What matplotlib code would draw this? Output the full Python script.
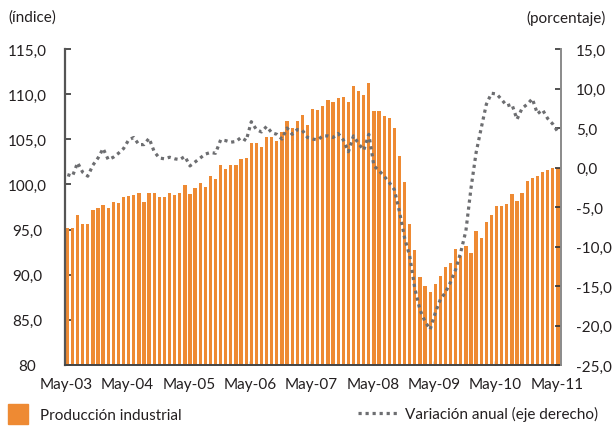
import matplotlib
matplotlib.use("Agg")
import matplotlib.pyplot as plt
from matplotlib.lines import Line2D
from matplotlib.patches import Rectangle

plt.rcParams['font.family'] = ['Lato', 'DejaVu Sans']

# Monthly index of industrial production, May-2003 .. May-2011 (97 months)
produccion = [
    95.2, 95.2, 96.6, 95.6, 95.6, 97.2, 97.4, 97.7, 97.4, 98.0, 97.9, 98.6,
    98.7, 98.8, 99.1, 98.1, 99.0, 99.0, 98.6, 98.6, 99.0, 98.8, 99.0, 99.9,
    98.9, 99.6, 100.2, 99.7, 100.9, 100.6, 102.2, 101.7, 102.2, 102.1, 102.8, 102.9,
    104.6, 104.6, 104.2, 105.2, 105.2, 104.8, 105.8, 107.0, 106.3, 107.0, 107.7, 106.6,
    108.3, 108.2, 108.7, 109.3, 109.1, 109.6, 109.7, 109.1, 110.9, 110.3, 109.9, 111.2,
    108.1, 108.1, 107.6, 107.4, 106.3, 103.2, 100.3, 95.6, 92.7, 89.7, 88.8, 88.1,
    89.0, 89.9, 90.8, 91.3, 92.8, 92.1, 93.2, 92.4, 94.8, 94.1, 95.8, 96.6,
    97.6, 97.6, 97.8, 98.9, 98.2, 99.1, 100.4, 100.7, 100.9, 101.4, 101.6, 101.8,
    101.8,
]
# Annual variation (%), right axis
variacion = [
    -0.9, -1.1, 0.6, -0.6, -1.1, 0.3, 1.2, 2.4, 1.0, 1.3, 1.8, 2.4,
    3.5, 3.8, 2.9, 2.9, 3.7, 2.0, 1.2, 1.1, 1.3, 1.1, 1.0, 1.4,
    0.2, 0.7, 1.2, 1.7, 1.9, 1.8, 3.5, 3.4, 3.2, 3.3, 3.8, 3.4,
    5.8, 4.8, 4.5, 5.2, 4.4, 4.2, 3.6, 5.0, 4.2, 4.8, 4.7, 3.8,
    3.6, 3.5, 4.0, 4.0, 3.8, 4.3, 3.5, 2.0, 4.0, 3.0, 2.2, 4.2,
    0.2, -0.4, -1.1, -1.9, -2.8, -5.6, -8.9, -11.2, -15.3, -18.0, -19.5, -20.5,
    -18.4, -16.7, -15.8, -14.5, -12.9, -10.7, -8.0, -2.6, 1.9, 5.0, 8.0, 9.4,
    9.3, 8.6, 7.8, 8.0, 6.1, 7.5, 8.0, 8.7, 6.8, 7.3, 6.2, 5.5,
    4.5,
]
x_labels = ["May-03", "May-04", "May-05", "May-06", "May-07",
            "May-08", "May-09", "May-10", "May-11"]
left_ticks = [80, 85, 90, 95, 100, 105, 110, 115]
left_labels = ["80", "85,0", "90,0", "95,0", "100,0", "105,0", "110,0", "115,0"]
right_ticks = [-25, -20, -15, -10, -5, 0, 5, 10, 15]
right_labels = ["-25,0", "-20,0", "-15,0", "-10,0", "-5,0", "0,0", "5,0", "10,0", "15,0"]

ORANGE = "#EE8A33"
GREY = "#6D6E71"

W, H = 614, 427
fig = plt.figure(figsize=(W / 100, H / 100), dpi=100)
ax = fig.add_axes([65 / W, (H - 366) / H, (561 - 65) / W, (366 - 50) / H])

n = len(produccion)
xs = list(range(n))
ax.bar(xs, [v - 80 for v in produccion], bottom=80, width=0.64, align='edge',
       color=ORANGE, linewidth=0, zorder=2)
ax.set_xlim(-0.14, 96.93)
ax.set_ylim(80, 115)
ax.set_yticks(left_ticks)
ax.set_yticklabels(left_labels)
ax.set_xticks([12 * k + 0.1 for k in range(len(x_labels))])
ax.set_xticklabels(x_labels)

ax2 = ax.twinx()
ax2.plot([x + 0.32 for x in xs], variacion, color=GREY, lw=2.3,
         linestyle=(0, (1.0, 1.2)), dash_capstyle='butt', zorder=3)
ax2.set_ylim(-25, 15)
ax2.set_yticks(right_ticks)
ax2.set_yticklabels(right_labels)

for a in (ax, ax2):
    a.spines['top'].set_visible(False)
ax.spines['left'].set_color("#555555")
ax.spines['left'].set_linewidth(1.6)
ax.spines['bottom'].set_color("#444444")
ax.spines['bottom'].set_linewidth(1.4)
ax.spines['right'].set_visible(False)
ax2.spines['left'].set_visible(False)
ax2.spines['bottom'].set_visible(False)
ax2.spines['right'].set_color("#8a8a8a")
ax2.spines['right'].set_linewidth(1.4)

ax.tick_params(axis='y', direction='in', length=4, width=1.2, color="#333333",
               labelsize=11, pad=27, labelcolor="#231F20")
for lbl in ax.get_yticklabels():
    lbl.set_horizontalalignment('center')
ax.tick_params(axis='x', direction='in', length=3, width=1, color="#555555",
               labelsize=11, pad=9, labelcolor="#231F20")
ax2.tick_params(axis='y', direction='in', length=4, width=1.2, color="#333333",
                labelsize=11, pad=11, labelcolor="#231F20")

fig.text(8 / W, 1 - 18 / H, "(índice)", fontsize=11, color="#231F20", va='center', ha='left')
fig.text(606 / W, 1 - 18 / H, "(porcentaje)", fontsize=11, color="#231F20", va='center', ha='right')

# legend
fig.patches.append(Rectangle((8 / W, 1 - 425 / H), 20 / W, 20 / H,
                             transform=fig.transFigure, color=ORANGE))
fig.text(40 / W, 1 - 416 / H, "Producción industrial", fontsize=11, color="#231F20",
         va='center', ha='left')
fig.lines.append(Line2D([358 / W, 398 / W], [1 - 414 / H, 1 - 414 / H],
                        transform=fig.transFigure, color=GREY, lw=2.3,
                        linestyle=(0, (1.0, 1.2)), dash_capstyle='butt'))
fig.text(405 / W, 1 - 414 / H, "Variación anual (eje derecho)", fontsize=11,
         color="#231F20", va='center', ha='left')

fig.savefig("out.png", dpi=100)
